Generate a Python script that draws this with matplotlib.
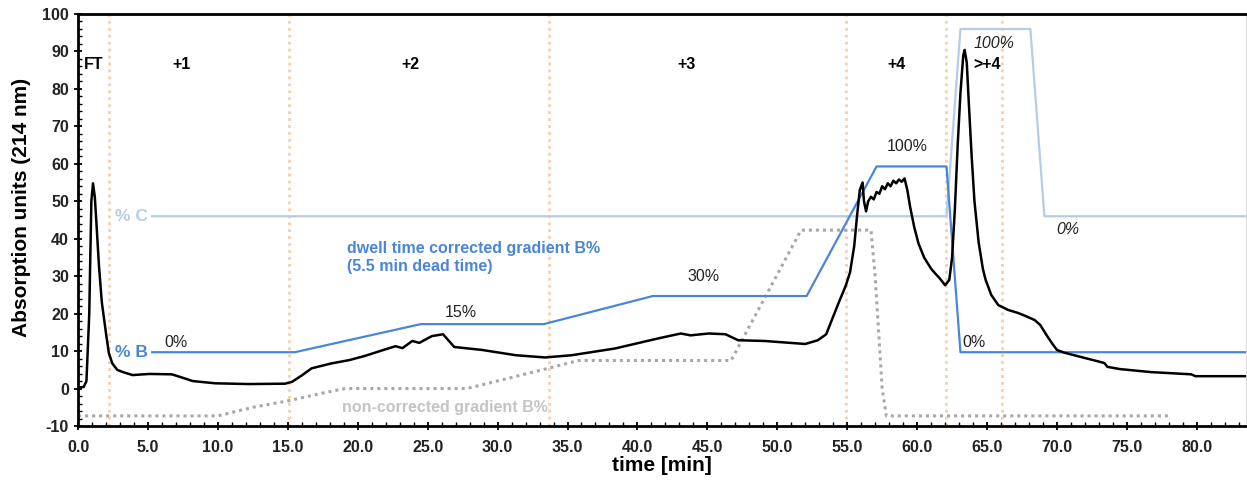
import matplotlib.pyplot as plt
from matplotlib.ticker import MultipleLocator, FormatStrFormatter

plt.rcParams['font.family'] = ['Liberation Sans', 'DejaVu Sans']
plt.rcParams['axes.unicode_minus'] = False

# absorption trace (214 nm)
t_abs = [0.0, 0.4, 0.6, 0.8, 0.9, 0.95, 1.07, 1.2, 1.3, 1.5, 1.7, 2.0, 2.2, 2.45, 2.8,
         3.2, 3.9, 5.1, 6.7, 7.3, 8.2, 9.8, 12.2, 14.8, 15.3, 16.0, 16.7, 18.1, 19.4,
         20.5, 22.0, 22.7, 23.2, 23.9, 24.4, 25.3, 26.1, 26.9, 28.9, 31.3, 33.4, 35.3,
         38.4, 41.5, 43.1, 43.8, 45.1, 46.3, 47.2, 49.1, 52.0, 52.9, 53.5, 53.9, 54.4,
         54.9, 55.2, 55.5, 55.7, 55.9, 56.1, 56.2, 56.35, 56.5, 56.7, 56.9, 57.1, 57.3,
         57.5, 57.7, 57.9, 58.1, 58.3, 58.5, 58.7, 58.9, 59.1, 59.3, 59.5, 59.8, 60.1,
         60.5, 61.0, 61.3, 61.6, 62.0, 62.3, 62.5, 62.7, 62.9, 63.1, 63.3, 63.4, 63.55,
         63.7, 63.9, 64.1, 64.4, 64.7, 64.9, 65.3, 65.8, 66.5, 67.2, 67.8, 68.4, 68.8,
         69.3, 69.7, 70.0, 70.5, 73.1, 73.4, 73.6, 74.5, 76.7, 79.6, 79.9, 83.5]
a_abs = [0.3, 0.4, 2.0, 20.0, 40.0, 50.0, 54.8, 51.0, 45.0, 32.5, 23.0, 14.7, 9.5, 6.7, 5.0,
         4.4, 3.6, 3.9, 3.8, 3.1, 2.0, 1.4, 1.2, 1.3, 1.8, 3.5, 5.4, 6.7, 7.6,
         8.7, 10.5, 11.3, 10.8, 12.7, 12.2, 14.0, 14.5, 11.1, 10.3, 8.9, 8.3, 8.9,
         10.7, 13.4, 14.7, 14.2, 14.7, 14.5, 12.9, 12.7, 11.9, 12.9, 14.5, 18.3, 23.0,
         27.5, 31.0, 38.0, 46.0, 53.0, 55.0, 50.0, 47.3, 50.0, 51.2, 50.5, 52.5, 52.0,
         54.0, 53.2, 54.8, 54.0, 55.5, 54.8, 55.8, 55.2, 56.1, 53.0, 48.5, 43.0, 38.7,
         35.0, 32.0, 30.7, 29.5, 27.6, 29.0, 35.0, 48.0, 65.0, 79.0, 89.0, 90.4, 87.0,
         76.0, 62.0, 50.0, 39.0, 32.0, 29.0, 25.0, 22.3, 21.0, 20.2, 19.3, 18.3, 17.0,
         14.0, 11.8, 10.3, 9.6, 7.1, 6.8, 5.8, 5.2, 4.4, 3.8, 3.3, 3.3]

# dwell time corrected gradient B%
t_b = [5.3, 15.5, 24.5, 33.3, 41.1, 52.1, 57.1, 62.1, 63.1, 83.5]
y_b = [9.7, 9.7, 17.2, 17.2, 24.7, 24.7, 59.3, 59.3, 9.7, 9.7]

# % C
t_c = [5.3, 62.1, 63.1, 68.1, 69.1, 83.5]
y_c = [46.0, 46.0, 96.0, 96.0, 46.0, 46.0]

# non-corrected gradient B%
t_nc = [0.0, 10.0, 12.5, 15.0, 17.5, 19.1, 27.8, 30.5, 33.5, 35.8, 46.7, 51.7, 56.7,
        57.0, 57.5, 57.8, 78.1]
y_nc = [-7.3, -7.3, -5.0, -3.3, -1.2, 0.0, 0.0, 2.5, 5.3, 7.5, 7.5, 42.3, 42.3,
        30.0, 0.0, -7.3, -7.3]

# fraction borders
fractions = [2.2, 15.1, 33.7, 54.9, 62.1, 66.1]
frac_labels = ['FT', '+1', '+2', '+3', '+4', '>+4']
frac_pos = [1.1, 7.4, 23.8, 43.5, 58.5, 65.0]

blue = '#4a86d8'
lightblue = '#b4cce8'
grey = '#a8a8a8'

fig = plt.figure(figsize=(12.47, 4.83), dpi=100)
ax = fig.add_axes([0.0626, 0.118, 0.9364, 0.853])

for xf in fractions:
    ax.axvline(xf, color='#f7cfa8', lw=2, ls=(0, (1, 1.5)), zorder=1)

ax.plot(t_c, y_c, color=lightblue, lw=1.6, zorder=2)
ax.plot(t_nc, y_nc, color=grey, lw=2.2, ls=(0, (1, 1.3)), zorder=2)
ax.plot(t_b, y_b, color=blue, lw=1.6, zorder=3)
ax.plot(t_abs, a_abs, color='black', lw=1.8, zorder=4)

for lab, xp in zip(frac_labels, frac_pos):
    ax.text(xp, 86.5, lab, ha='center', va='center', fontsize=11.5, fontweight='bold')

ax.text(3.8, 9.7, '% B', color=blue, fontsize=12.5, fontweight='bold', ha='center', va='center')
ax.text(3.8, 46, '% C', color=lightblue, fontsize=12.5, fontweight='bold', ha='center', va='center')
ax.text(19.2, 35.0, 'dwell time corrected gradient B%\n(5.5 min dead time)', color=blue,
        fontsize=11.5, fontweight='bold', ha='left', va='center', linespacing=1.2)
ax.text(18.9, -5.0, 'non-corrected gradient B%', color='#c4c4c4', fontsize=11.5,
        fontweight='bold', ha='left', va='center')

ax.text(7.0, 12.4, '0%', fontsize=11.5, ha='center', va='center', color='#222222')
ax.text(27.4, 20.4, '15%', fontsize=11.5, ha='center', va='center', color='#222222')
ax.text(44.7, 30.0, '30%', fontsize=11.5, ha='center', va='center', color='#222222')
ax.text(59.3, 64.5, '100%', fontsize=11.5, ha='center', va='center', color='#222222')
ax.text(64.1, 12.4, '0%', fontsize=11.5, ha='center', va='center', color='#222222')
ax.text(65.5, 92.2, '100%', fontsize=11.5, ha='center', va='center', style='italic', color='#222222')
ax.text(70.8, 42.5, '0%', fontsize=11.5, ha='center', va='center', style='italic', color='#222222')

ax.set_xlim(0, 83.5)
ax.set_ylim(-10, 100)
ax.xaxis.set_major_locator(MultipleLocator(5))
ax.xaxis.set_minor_locator(MultipleLocator(1))
ax.yaxis.set_major_locator(MultipleLocator(10))
ax.yaxis.set_minor_locator(MultipleLocator(2))
ax.xaxis.set_major_formatter(FormatStrFormatter('%.1f'))
ax.tick_params(which='major', direction='inout', length=6, width=1.3, labelsize=11.5)
ax.tick_params(axis='x', which='major', pad=7)
ax.tick_params(which='minor', direction='in', length=3, width=1)
for lab in ax.get_xticklabels() + ax.get_yticklabels():
    lab.set_fontweight('bold')
    lab.set_color('#222222')

for s in ['left', 'bottom', 'top']:
    ax.spines[s].set_linewidth(2)
ax.spines['right'].set_color('#dddddd')

ax.set_xlabel('time [min]', fontsize=15, fontweight='bold', labelpad=1)
ax.set_ylabel('Absorption units (214 nm)', fontsize=15, fontweight='bold')
ax.yaxis.set_label_coords(-0.040, 0.53)

fig.savefig('out.png', dpi=100)
